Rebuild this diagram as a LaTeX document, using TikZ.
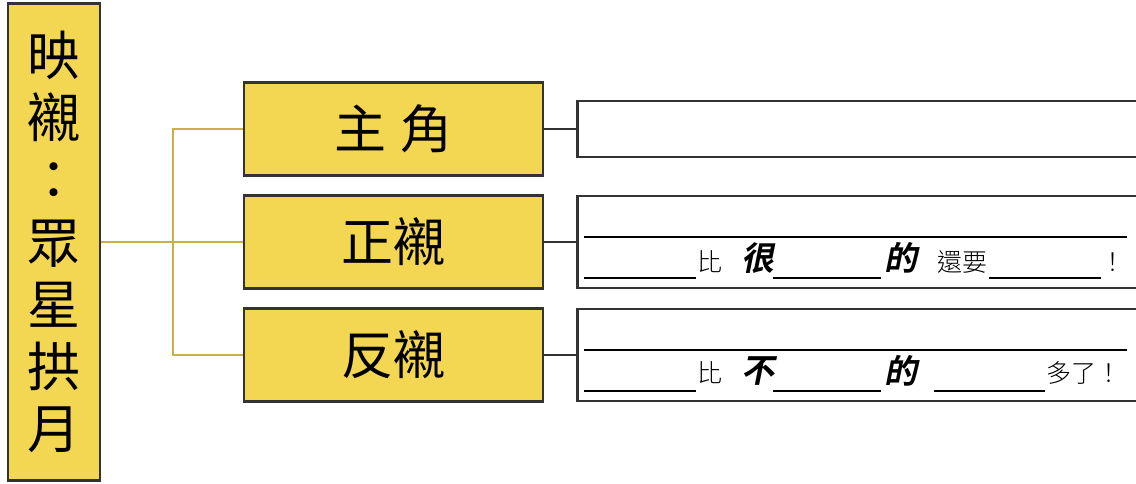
\documentclass[tikz,border=0pt]{standalone}
\usepackage{fontspec}
\usepackage{tikz}
\usetikzlibrary{positioning}
\newfontfamily\cjk{Noto Sans CJK TC}
\newfontfamily\cjklight{Noto Sans CJK TC Light}
\newfontfamily\cjkbi[FakeSlant=0.2]{Noto Sans CJK TC Bold}
\definecolor{boxyellow}{HTML}{F3D652}
\definecolor{boxline}{HTML}{333333}
\definecolor{gold}{HTML}{C9B04B}

\begin{document}
\begin{tikzpicture}[x=1pt, y=-1pt, node distance=17.6pt,
    topic/.style={draw=boxline, line width=2.4pt, fill=boxyellow, inner sep=0pt},
    answer/.style={draw=boxline, line width=2.4pt, fill=white, minimum width=600pt},
    word/.style={inner sep=0pt, font=\cjklight\fontsize{25}{25}\selectfont},
    key/.style={inner sep=0pt, font=\cjkbi\fontsize{33}{33}\selectfont}]
    \useasboundingbox (0,0) rectangle (1136,483);
    \clip (0,0) rectangle (1136,483);

    \node (title) [topic, minimum width=92pt, minimum height=477pt, align=center,
        font=\cjk\fontsize{53}{62.3}\selectfont] at (54,242) {映\\襯\\：\\眾\\星\\拱\\月};

    \node (jiao) [topic, minimum width=299pt, minimum height=93pt,
        font=\cjk\fontsize{52}{52}\selectfont] at (393.5,129) {主\hspace{14pt}角};
    \node (zheng) [topic, minimum width=299pt, minimum height=93pt,
        font=\cjk\fontsize{52}{52}\selectfont, below=of jiao] {正襯};
    \node (fan) [topic, minimum width=299pt, minimum height=93pt,
        font=\cjk\fontsize{52}{52}\selectfont, below=of zheng] {反襯};

    \node (r1) [answer, minimum height=56pt, right=32pt of jiao] {};
    \node (r2) [answer, minimum height=92pt, right=32pt of zheng] {};
    \node (r3) [answer, minimum height=92pt, right=32pt of fan] {};

    \coordinate (fork) at (173,242);
    \draw [gold, line width=2pt]
        (title) -- (fork) (fork) |- (jiao) (fork) -- (zheng) (fork) |- (fan);
    \path [draw=boxline, line width=2pt]
        (jiao) edge (r1)
        (zheng) edge (r2)
        (fan) edge (r3);

    \foreach \xa/\xb/\yy in {584/1127/237, 584/696/278, 773/881/278, 989/1101/278,
        584/1127/350, 584/696/391, 773/881/391, 934/1045/391}
        \draw [line width=2pt] (\xa,\yy) -- (\xb,\yy);

    \node (bi1) [word] at (710,262) {比};
    \node (hen) [key] at (758,258) {很};
    \node (de1) [key] at (901,258) {的};
    \node (huanyao) [word] at (962,262) {還要};
    \node (gantan) [word] at (1113,262) {！};

    \node (bi2) [word] at (710,373) {比};
    \node (bu) [key] at (758,371) {不};
    \node (de2) [key] at (901,371) {的};
    \node (duole) [word] at (1084,373) {多了！};
\end{tikzpicture}
\end{document}
